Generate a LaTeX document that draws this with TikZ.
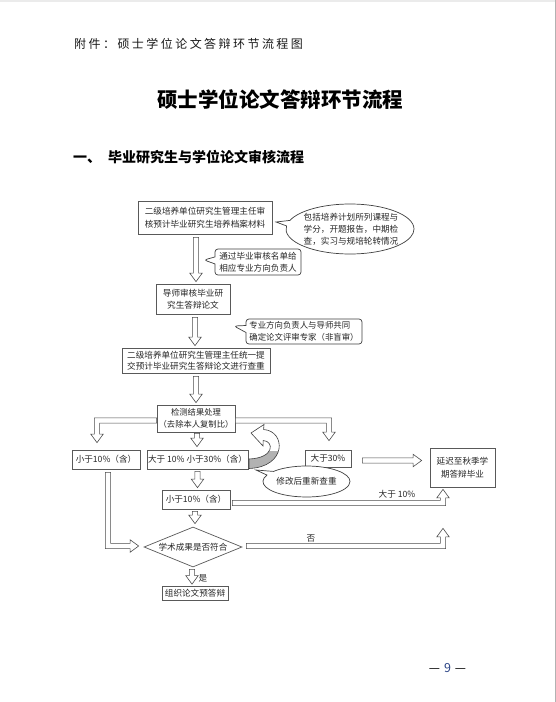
\documentclass[tikz,border=0pt]{standalone}
\usepackage{fontspec}
\setmainfont{Noto Sans CJK SC}
\usetikzlibrary{shapes.geometric,shapes.callouts,calc}
\definecolor{numblue}{RGB}{45,70,135}
\newcommand\fsz[2]{\fontsize{#1}{#2}\selectfont}
\newcommand\ks{\kern2.45pt}
\def\ahS{2.6pt}\def\ahH{6.2pt}\def\ahL{8.5pt}
\tikzset{
  harr/.style={draw=black!70, line width=0.6pt, fill=white, line join=miter},
  fbox/.style={draw=black!65, line width=0.7pt, fill=white, text=black!85, inner sep=0pt, align=center, font=\fsz{8.6}{12.5}},
  cbox/.style={draw=black!75, line width=0.7pt, fill=white},
  ctext/.style={text=black!85, inner sep=0pt, font=\fsz{8.6}{12}},
  lbl/.style={text=black!85, inner sep=0pt, font=\fsz{8.6}{10}},
}
% hollow block arrows
\newcommand\arD[2]{\path[harr] let \p1=(#1), \p2=(#2) in
  (\x1-\ahS,\y1) -- (\x1-\ahS,\y2+\ahL) -- (\x1-\ahH,\y2+\ahL) -- (\x1,\y2) -- (\x1+\ahH,\y2+\ahL) -- (\x1+\ahS,\y2+\ahL) -- (\x1+\ahS,\y1) -- cycle;}
\newcommand\arR[2]{\path[harr] let \p1=(#1), \p2=(#2) in
  (\x1,\y1+\ahS) -- (\x2-\ahL,\y1+\ahS) -- (\x2-\ahL,\y1+\ahH) -- (\x2,\y1) -- (\x2-\ahL,\y1-\ahH) -- (\x2-\ahL,\y1-\ahS) -- (\x1,\y1-\ahS) -- cycle;}
\newcommand\arRD[2]{\path[harr] let \p1=(#1), \p2=(#2) in
  (\x1,\y1+\ahS) -- (\x2+\ahS,\y1+\ahS) -- (\x2+\ahS,\y2+\ahL) -- (\x2+\ahH,\y2+\ahL) -- (\x2,\y2) -- (\x2-\ahH,\y2+\ahL) -- (\x2-\ahS,\y2+\ahL) -- (\x2-\ahS,\y1-\ahS) -- (\x1,\y1-\ahS) -- cycle;}
\newcommand\arLD[2]{\path[harr] let \p1=(#1), \p2=(#2) in
  (\x1,\y1+\ahS) -- (\x2-\ahS,\y1+\ahS) -- (\x2-\ahS,\y2+\ahL) -- (\x2-\ahH,\y2+\ahL) -- (\x2,\y2) -- (\x2+\ahH,\y2+\ahL) -- (\x2+\ahS,\y2+\ahL) -- (\x2+\ahS,\y1-\ahS) -- (\x1,\y1-\ahS) -- cycle;}
\newcommand\arRU[2]{\path[harr] let \p1=(#1), \p2=(#2) in
  (\x1,\y1-\ahS) -- (\x2+\ahS,\y1-\ahS) -- (\x2+\ahS,\y2-\ahL) -- (\x2+\ahH,\y2-\ahL) -- (\x2,\y2) -- (\x2-\ahH,\y2-\ahL) -- (\x2-\ahS,\y2-\ahL) -- (\x2-\ahS,\y1+\ahS) -- (\x1,\y1+\ahS) -- cycle;}
\newcommand\arDR[2]{\path[harr] let \p1=(#1), \p2=(#2) in
  (\x1-\ahS,\y1) -- (\x1-\ahS,\y2-\ahS) -- (\x2-\ahL,\y2-\ahS) -- (\x2-\ahL,\y2-\ahH) -- (\x2,\y2) -- (\x2-\ahL,\y2+\ahH) -- (\x2-\ahL,\y2+\ahS) -- (\x1+\ahS,\y2+\ahS) -- (\x1+\ahS,\y1) -- cycle;}
\newcommand\ribbon[1]{\path[#1] (251,433) -- (264,424.5) -- (263.6,429.5)
  .. controls (286,431) and (287,467) .. (249,468.5) -- (249,459)
  .. controls (275,458) and (274,441) .. (263.2,440.5) -- (263,446) -- cycle;}
\begin{document}
\begin{tikzpicture}[x=1pt,y=-1pt]
\useasboundingbox (0,0) rectangle (556,702);
\fill[white] (0,0) rectangle (556,702);
\draw[black!8, line width=2pt] (0,1) -- (556,1);
\draw[black!30, line width=1pt] (555.5,0) -- (555.5,702);

% headings
\node[anchor=west, inner sep=0pt, text=black!90, font=\fsz{12}{14}] (hdr) at (74,44)
  {附\ks 件\ks ：\ks 硕\ks 士\ks 学\ks 位\ks 论\ks 文\ks 答\ks 辩\ks 环\ks 节\ks 流\ks 程\ks 图};
\node[inner sep=0pt, font=\fsz{20.5}{24}\bfseries] (title) at (280,100) {硕士学位论文答辩环节流程};
\node[anchor=west, inner sep=0pt, font=\fsz{14}{16}\bfseries] (sec) at (73,157) {一、\hspace{7pt}毕业研究生与学位论文审核流程};

% pointer coordinates
\coordinate (p1) at (276,222);
\coordinate (p2) at (204,260);
\coordinate (p3) at (234,326);
\coordinate (p4) at (256,470);

% boxes
\node[fbox, minimum width=134, minimum height=33, font=\fsz{8.6}{13}] (b1) at (205,217.5) {二级培养单位研究生管理主任审\\核预计毕业研究生培养档案材料};
\node[fbox, minimum width=74, minimum height=30] (b2) at (193,299) {导师审核毕业研\\究生答辩论文};
\node[fbox, minimum width=148, minimum height=25, font=\fsz{8.6}{11.5}] (b3) at (196,360.5) {二级培养单位研究生管理主任统一提\\交预计毕业研究生答辩论文进行查重};
\node[fbox, minimum width=78, minimum height=27, font=\fsz{8.3}{11.5}] (b4) at (196,418.5) {检测结果处理\\（去除本人复制比）};
\node[fbox, minimum width=68, minimum height=19] (b5) at (106,459.5) {小于10\%（含）};
\node[fbox, minimum width=101, minimum height=19] (b6) at (197.5,459.5) {大于 10\% 小于30\%（含）};
\node[fbox, minimum width=46, minimum height=17] (b7) at (328,458.5) {大于30\%};
\node[fbox, minimum width=65, minimum height=39, font=\fsz{8.6}{13}] (b8) at (462.5,467.5) {延迟至秋季学\\期答辩毕业};
\node[fbox, minimum width=68, minimum height=19] (b9) at (196,499.5) {小于10\%（含）};
\node[fbox, diamond, aspect=2.45, minimum width=98, minimum height=40] (d) at (193,547) {学术成果是否符合};
\node[fbox, minimum width=66, minimum height=14] (b10) at (195,593.5) {组织论文预答辩};

% callouts
\node[cbox, ellipse callout, callout absolute pointer=(p1), callout pointer arc=13, minimum width=128, minimum height=50, inner sep=0pt] (c1) at (350,229) {};
\node[ctext, align=center] (c1t) at (351,229) {包括培养计划所列课程与\\学分，开题报告，中期检\\查，实习与规培轮转情况};
\node[cbox, rectangle callout, rounded corners=3pt, callout absolute pointer=(p2), callout pointer width=7pt, minimum width=86, minimum height=26, inner sep=0pt] (c2) at (258,262) {};
\node[ctext, align=left] (c2t) at (258,262) {通过毕业审核名单给\\相应专业方向负责人};
\node[cbox, rectangle callout, rounded corners=3pt, callout absolute pointer=(p3), callout pointer width=7pt, minimum width=116, minimum height=25, inner sep=0pt] (c3) at (304,331.5) {};
\node[ctext, align=left, font=\fsz{8.4}{11.5}] (c3t) at (304,331.5) {专业方向负责人与导师共同\\确定论文评审专家（非盲审）};

% straight / bent hollow arrows
\arD{$(b1.south)+(-9,3)$}{$(b2.north)+(3,-2)$}
\arD{$(b2.south)+(2,3)$}{$(b3.north)+(-1,-2)$}
\arD{$(b3.south)+(0,3)$}{$(b4.north)+(0,-2)$}
\arLD{$(b4.west)+(0,2)$}{$(b5.north)+(-9,-7)$}
\arRD{$(b4.east)+(0,2)$}{$(b7.north)+(1,-9)$}
\arD{$(b4.south)+(1,1)$}{$(b6.north)+(0,-3)$}
\arR{$(b7.east)+(11,2)$}{$(b8.west)+(-8,-7)$}
\arD{$(b6.south)+(0,2)$}{$(b9.north)+(1,-2)$}
\arRU{$(b9.east)+(2,3.5)$}{$(b8.south)+(-19.5,2)$}
\arD{$(b9.south)+(-1,2)$}{$(d.north)+(2,-3)$}
\arRU{$(d.east)+(4,-1)$}{$(b8.south)+(-19.5,41)$}
\arDR{$(b5.south)+(2,3)$}{$(d.west)+(-5,-1)$}
\arD{$(d.south)+(-1,2)$}{$(b10.north)+(-3,-2)$}

% curved return arrow
\ribbon{fill=white}
\begin{scope}
  \clip (240,451) rectangle (300,480);
  \ribbon{fill=black!30}
\end{scope}
\ribbon{draw=black!75, line width=0.6pt, line join=miter}

\node[cbox, ellipse callout, callout absolute pointer=(p4), callout pointer arc=16, minimum width=87, minimum height=31, inner sep=0pt] (c4) at (306.5,481.5) {};
\node[ctext] (c4t) at (306.5,481.5) {修改后重新查重};

% labels
\node[lbl] (l1) at (397,494) {大于 10\%};
\node[lbl] (l2) at (311,538) {否};
\node[lbl] (l3) at (203,578) {是};

% page number
\node[inner sep=0pt, font=\fsz{12.5}{14}] (pg) at (447.5,668) {—\hspace{4pt}{\color{numblue}9}\hspace{4pt}—};
\end{tikzpicture}
\end{document}
